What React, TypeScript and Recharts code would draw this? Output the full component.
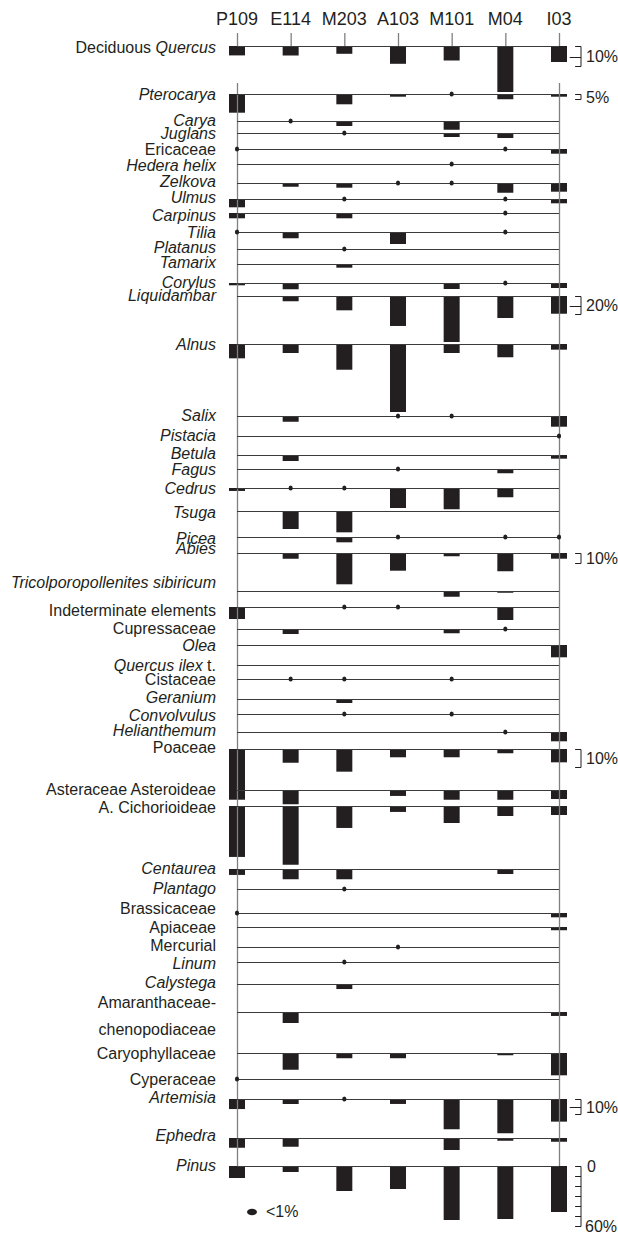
import React from 'react';
import { ComposedChart, XAxis, YAxis, ReferenceLine, ReferenceArea, Scatter, Legend } from 'recharts';

// ---------- data ----------
const samples = ['P109', 'E114', 'M203', 'A103', 'M101', 'M04', 'I03'];

// *text* = italic part
const taxa = [
  'Deciduous *Quercus*', '*Pterocarya*', '*Carya*', '*Juglans*', 'Ericaceae', '*Hedera helix*',
  '*Zelkova*', '*Ulmus*', '*Carpinus*', '*Tilia*', '*Platanus*', '*Tamarix*',
  '*Corylus*', '*Liquidambar*', '*Alnus*', '*Salix*', '*Pistacia*', '*Betula*',
  '*Fagus*', '*Cedrus*', '*Tsuga*', '*Picea*', '*Abies*', '*Tricolporopollenites sibiricum*',
  'Indeterminate elements', 'Cupressaceae', '*Olea*', '*Quercus ilex* t.', 'Cistaceae', '*Geranium*',
  '*Convolvulus*', '*Helianthemum*', 'Poaceae', 'Asteraceae Asteroideae', 'A. Cichorioideae', '*Centaurea*',
  '*Plantago*', 'Brassicaceae', 'Apiaceae', 'Mercurial', '*Linum*', '*Calystega*',
  'Amaranthaceae-\nchenopodiaceae', 'Caryophyllaceae', 'Cyperaceae', '*Artemisia*', '*Ephedra*', '*Pinus*',
];

const D = 0.5; // presence < 1%

// percentages, one entry per taxon (same order as taxa)
const P109 = [4.7, 18.7, 0, 0, D, 0, 0, 8.3, 5.3, D, 0, 0, 2.3, 0, 15.9, 0, 0, 0, 0, 3.3, 0, 0, 0, 0, 12, 0, 0, 0, 0, 0, 0, 0, 25.9, 5.4, 28.3, 3.3, 0, D, 0, 0, 0, 0, 0, 0, D, 6.7, 6.5, 12];
const E114 = [4.7, 0, D, 0, 0, 0, 3.7, 0, 0, 6.3, 0, 0, 6.3, 5.9, 10, 6.3, 0, 6.7, 0, D, 20, 0, 5.7, 0, 0, 5, 0, 0, D, 0, 0, 0, 7.6, 7.9, 32.6, 5.7, 0, 0, 0, 0, 0, 0, 6.1, 9.3, 0, 3.3, 5.8, 6];
const M203 = [3.9, 10.3, 5, D, 0, 0, 4.7, D, 5.3, 0, D, 3.7, 0, 15.9, 28.6, 0, 0, 0, 0, D, 23.7, 5.9, 31.3, 0, D, 0, 0, 0, D, 4, D, 0, 12.6, 0, 12.2, 5.7, D, 0, 0, 0, D, 2.8, 0, 2.9, 0, D, 0, 25];
const A103 = [8.9, 2.7, 0, 0, 0, 0, D, 0, 0, 12, 0, 0, 0, 33.3, 75.6, D, 0, 0, D, 22.2, 0, D, 17.7, 0, D, 0, 0, 0, 0, 0, 0, 0, 4.6, 3.3, 3.3, 0, 0, 0, 0, D, 0, 0, 0, 2.9, 0, 3.3, 0, 23];
const M101 = [7.2, D, 8.7, 4, 0, D, D, 0, 0, 0, 0, 0, 6, 51.1, 10, D, 0, 0, 0, 23.7, 0, 0, 3.3, 5.7, 0, 4.3, 0, 0, D, 0, D, 0, 4.6, 5.4, 9.4, 0, 0, 0, 0, 0, 0, 0, 0, 0, 0, 20.2, 8, 54];
const M04 = [23, 5.3, 0, 5, D, 0, 9.7, D, D, D, 0, 0, D, 24.4, 14.8, 0, 0, 0, 4.8, 10.3, 0, D, 18.3, 1.7, 13, D, 0, 0, 0, 0, 0, D, 2.4, 5.4, 5.6, 2.8, 0, 0, 0, 0, 0, 0, 0, 1.3, 0, 22.9, 1.8, 53];
const I03 = [8, 2.7, 0, 0, 4.7, 0, 8.7, 4.3, 0, 0, 0, 0, 5, 19.7, 6.3, 11.9, D, 4.1, 0, 0, 0, D, 5.7, 0, 0, 0, 12.3, 0, 0, 0, 0, 9.3, 7.4, 5, 5, 0, 0, 2.4, 1.8, 0, 0, 0, 2.2, 12.4, 0, 15.1, 2.5, 46];

const sampleValues = [P109, E114, M203, A103, M101, M04, I03];

// scale bars: first row of section, percent shown, label
const scaleBars = [
  { row: 0, pct: 10, label: '10%', mid: true },
  { row: 1, pct: 5, label: '5%', mid: false },
  { row: 13, pct: 20, label: '20%', mid: true },
  { row: 22, pct: 10, label: '10%', mid: false },
  { row: 32, pct: 10, label: '10%', mid: false },
  { row: 45, pct: 10, label: '10%', mid: true },
];
const pinusTicks = [0, 10, 20, 30, 40, 50, 60];

// ---------- layout ----------
const baselineY = [46, 94, 121, 133, 149, 164, 183, 199, 213, 232, 249, 264, 283, 296, 344, 416, 436, 455, 469, 488, 511, 537, 553, 591, 607, 629, 645, 665, 679, 699, 714, 732, 749, 790, 806, 869, 889, 913, 927, 947, 962, 984, 1012, 1053, 1079, 1099, 1138, 1166];
const labelY = [47, 94, 120, 133, 149, 165, 181, 197, 215, 232, 247, 262, 282, 295, 344, 415, 435, 453, 469, 488, 512, 538, 548, 582, 610, 628, 645, 665, 679, 697, 715, 730, 747, 789, 807, 868, 888, 908, 927, 945, 963, 982, 1002, 1053, 1079, 1097, 1135, 1165];
const sections = [
  { from: 0, scale: 2 }, { from: 1, scale: 1 }, { from: 13, scale: 0.9 }, { from: 22, scale: 1 },
  { from: 32, scale: 1.8 }, { from: 45, scale: 1.5 }, { from: 47, scale: 1 },
];
const pxPerPct = taxa.map((_, r) => {
  let s = 1;
  sections.forEach((sec) => { if (r >= sec.from) s = sec.scale; });
  return s;
});

const FONT = '"Liberation Sans", Arial, Helvetica, sans-serif';
const INK = '#231f20';
const LINE = '#3a3a3a';
const FRAME = '#808080';
const HALF = 0.149;
const BX = 6.41;
const BTX = 6.3;
const LAST = samples.length - 1;
const PX = 1 / 53.667; // one pixel in column units
const CRISP_Y = 0.5;

const parseSegments = (s: string) =>
  s.split('*').map((t, i) => ({ t, it: i % 2 === 1 })).filter((x) => x.t.length > 0);

const TaxonTick = (props: any) => {
  const { x, y, payload } = props;
  const row = labelY.indexOf(payload.value);
  if (row < 0) return null;
  const lines = taxa[row].split('\n');
  return (
    <g>
      {lines.map((ln, li) => (
        <text key={li} x={x} y={y + li * 27} dy="0.35em" textAnchor="end" fontSize={16} fontFamily={FONT} fill={INK}>
          {parseSegments(ln).map((seg, si) => (
            <tspan key={si} fontStyle={seg.it ? 'italic' : 'normal'}>{seg.t}</tspan>
          ))}
        </text>
      ))}
    </g>
  );
};

const bars: { col: number; row: number; v: number }[] = [];
const dots: { x: number; y: number }[] = [];
sampleValues.forEach((vals, col) =>
  vals.forEach((v, row) => {
    if (v >= 1) bars.push({ col, row, v });
    else if (v > 0) dots.push({ x: col, y: baselineY[row] });
  })
);

const labelStyle = { fontSize: 16, fill: INK, fontFamily: FONT };

export default function App() {
  const lastB = baselineY[baselineY.length - 1];
  return (
    <div style={{ position: 'absolute', left: 0, top: 0 }}>
      <ComposedChart width={618} height={1236} margin={{ top: 0, right: 0, bottom: 0, left: 0 }}>
        <XAxis
          type="number"
          dataKey="x"
          orientation="top"
          height={29}
          domain={[-0.2795, 7.0994]}
          allowDataOverflow
          ticks={[0, 1, 2, 3, 4, 5, 6]}
          interval={0}
          tickFormatter={(v: number) => samples[v]}
          tickLine={false}
          axisLine={false}
          tickSize={0}
          tickMargin={4}
          tick={{ fontSize: 18, fill: INK, fontFamily: FONT }}
        />
        <YAxis
          type="number"
          dataKey="y"
          width={222}
          domain={[29, 1236]}
          reversed
          allowDataOverflow
          ticks={labelY}
          interval={0}
          tickLine={false}
          axisLine={false}
          tickSize={0}
          tickMargin={6}
          tick={TaxonTick}
        />

        {/* header ticks */}
        {samples.map((s, i) => (
          <ReferenceLine key={'h' + s} segment={[{ x: i + PX / 2, y: 33 }, { x: i + PX / 2, y: baselineY[0] }]} stroke={FRAME} strokeWidth={1.3} ifOverflow="visible" />
        ))}
        {/* frame */}
        <ReferenceLine segment={[{ x: PX / 2, y: 83 }, { x: PX / 2, y: lastB }]} stroke={FRAME} strokeWidth={1.3} ifOverflow="visible" />
        <ReferenceLine segment={[{ x: LAST + PX / 2, y: 83 }, { x: LAST + PX / 2, y: lastB }]} stroke={FRAME} strokeWidth={1.3} ifOverflow="visible" />

        {/* baselines */}
        {baselineY.map((b, r) => (
          <ReferenceLine key={'b' + r} segment={[{ x: 0, y: b + CRISP_Y }, { x: LAST, y: b + CRISP_Y }]} stroke={LINE} strokeWidth={1} ifOverflow="visible" />
        ))}

        {/* bars */}
        {bars.map((d) => (
          <ReferenceArea
            key={'r' + d.row + '-' + d.col}
            x1={d.col - HALF}
            x2={d.col + HALF}
            y1={baselineY[d.row]}
            y2={baselineY[d.row] + d.v * pxPerPct[d.row]}
            fill={INK}
            fillOpacity={1}
            stroke="none"
            ifOverflow="visible"
          />
        ))}

        {/* scale bars */}
        {scaleBars.map((sb, k) => {
          const y0 = baselineY[sb.row] + CRISP_Y;
          const y1 = y0 + sb.pct * pxPerPct[sb.row];
          return (
            <React.Fragment key={'s' + k}>
              <ReferenceLine segment={[{ x: BX, y: y0 }, { x: BX, y: y1 }]} stroke={INK} strokeWidth={1}
                ifOverflow="visible" label={{ value: sb.label, position: 'right', offset: 5, ...labelStyle }} />
              <ReferenceLine segment={[{ x: BTX, y: y0 }, { x: BX, y: y0 }]} stroke={INK} strokeWidth={1} ifOverflow="visible" />
              <ReferenceLine segment={[{ x: BTX, y: y1 }, { x: BX, y: y1 }]} stroke={INK} strokeWidth={1} ifOverflow="visible" />
              {sb.mid && (
                <ReferenceLine segment={[{ x: BTX - 0.1, y: Math.round((y0 + y1) / 2) + 0.5 }, { x: BX, y: Math.round((y0 + y1) / 2) + 0.5 }]} stroke={INK} strokeWidth={1} ifOverflow="visible" />
              )}
            </React.Fragment>
          );
        })}
        {/* Pinus scale */}
        <ReferenceLine segment={[{ x: BX, y: baselineY[47] + CRISP_Y }, { x: BX, y: baselineY[47] + CRISP_Y + 60 * pxPerPct[47] }]} stroke={INK} strokeWidth={1} ifOverflow="visible" />
        {pinusTicks.map((t) => (
          <ReferenceLine
            key={'p' + t}
            segment={[{ x: BTX, y: baselineY[47] + CRISP_Y + t * pxPerPct[47] }, { x: BX, y: baselineY[47] + CRISP_Y + t * pxPerPct[47] }]}
            stroke={INK}
            strokeWidth={1}
            ifOverflow="visible"
            label={t === 0 ? { value: '0', position: 'right', offset: 6, ...labelStyle } : t === 60 ? { value: '60%', position: 'right', offset: 4, ...labelStyle } : undefined}
          />
        ))}

        {/* < 1 % presence */}
        <Scatter
          name="<1%"
          data={dots}
          dataKey="y"
          fill={INK}
          isAnimationActive={false}
          shape={(p: any) => <ellipse cx={p.cx} cy={p.cy} rx={2.1} ry={2.5} fill={INK} />}
        />

        <Legend
          layout="horizontal"
          align="center"
          verticalAlign="middle"
          wrapperStyle={{ left: 246, top: 1201, width: 80, height: 22 }}
          content={() => (
            <div style={{ display: 'flex', alignItems: 'center', fontFamily: FONT, fontSize: 16, color: INK, lineHeight: '22px' }}>
              <svg width={12} height={8}>
                <ellipse cx={6} cy={4} rx={5} ry={3.3} fill={INK} />
              </svg>
              <span style={{ marginLeft: 8 }}>&lt;1%</span>
            </div>
          )}
        />
      </ComposedChart>
    </div>
  );
}
